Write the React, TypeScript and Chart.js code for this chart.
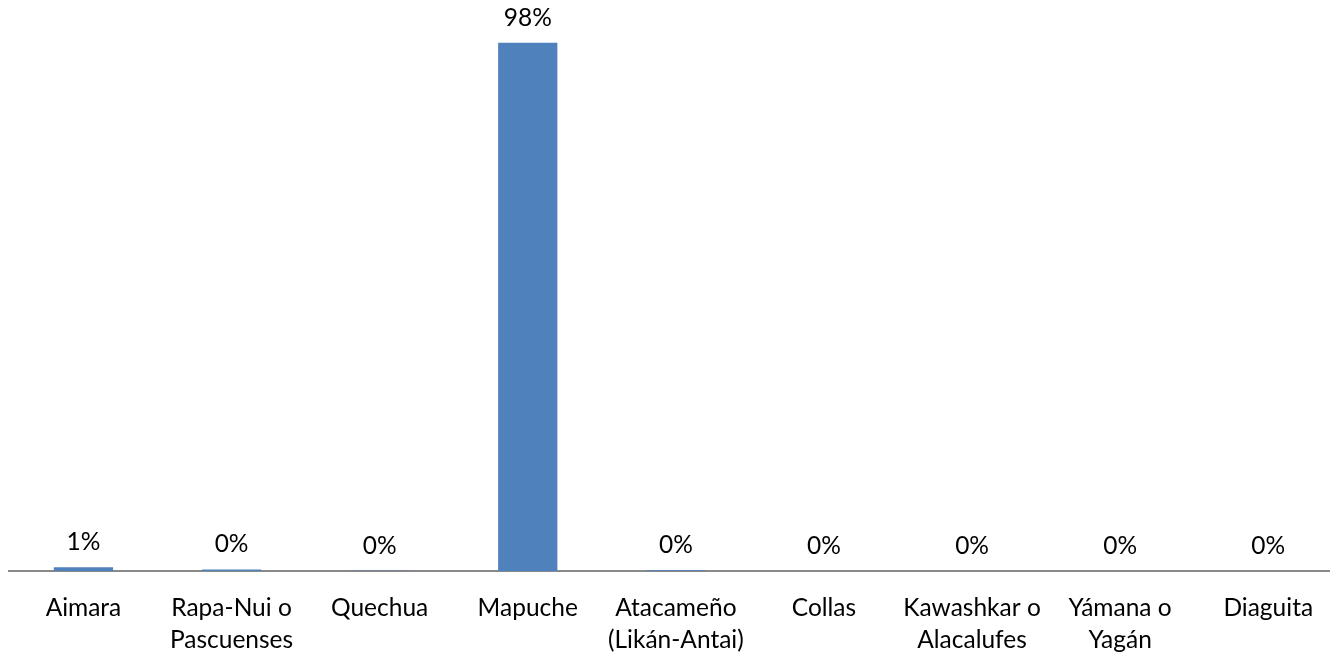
import React, { useEffect, useRef } from "react";
import { Chart, registerables } from "chart.js";

Chart.register(...registerables);

const categories: (string | string[])[] = [
  "Aimara",
  ["Rapa-Nui o", "Pascuenses"],
  "Quechua",
  "Mapuche",
  ["Atacameño", "(Likán-Antai)"],
  "Collas",
  ["Kawashkar o", "Alacalufes"],
  ["Yámana o", "Yagán"],
  "Diaguita",
];

const percentValues: number[] = [0.7, 0.3, 0.03, 98, 0.15, 0, 0, 0, 0];

const FONT = "Lato, 'Open Sans', sans-serif";

const dataLabelPlugin = {
  id: "dataLabels",
  afterDatasetsDraw(chart: any) {
    const ctx = chart.ctx;
    const meta = chart.getDatasetMeta(0);
    ctx.save();
    ctx.font = `24.5px ${FONT}`;
    ctx.fillStyle = "#000000";
    ctx.textAlign = "center";
    ctx.textBaseline = "middle";
    meta.data.forEach((bar: any, i: number) => {
      const v = percentValues[i];
      ctx.fillText(Math.round(v) + "%", bar.x, bar.y - 25);
    });
    ctx.restore();
  },
};

export default function App() {
  const ref = useRef<HTMLCanvasElement | null>(null);

  useEffect(() => {
    document.body.style.overflow = "hidden";
    const canvas = ref.current!;
    const chart = new Chart(canvas, {
      type: "bar",
      data: {
        labels: categories,
        datasets: [
          {
            data: percentValues,
            backgroundColor: "#4F81BD",
            borderWidth: 0,
            categoryPercentage: 1,
            barPercentage: 0.4,
          },
        ],
      },
      options: {
        responsive: false,
        animation: false,
        layout: { padding: { left: 9.4, right: 7.7, top: 32, bottom: 0 } },
        plugins: {
          legend: { display: false },
          tooltip: { enabled: false },
        },
        scales: {
          x: {
            offset: true,
            grid: { display: false, drawTicks: false },
            border: { display: true, color: "#898989", width: 2 },
            ticks: {
              color: "#000000",
              font: { family: FONT, size: 24.5, lineHeight: 32 / 24.5 },
              padding: 21,
              maxRotation: 0,
              autoSkip: false,
            },
          },
          y: {
            display: false,
            min: 0,
            max: 100,
          },
        },
      },
      plugins: [dataLabelPlugin],
    });
    return () => chart.destroy();
  }, []);

  return (
    <div style={{ position: "fixed", left: 0, top: 0, width: 1350, height: 677 }}>
      <canvas ref={ref} width={1350} height={677} style={{ display: "block" }} />
    </div>
  );
}
